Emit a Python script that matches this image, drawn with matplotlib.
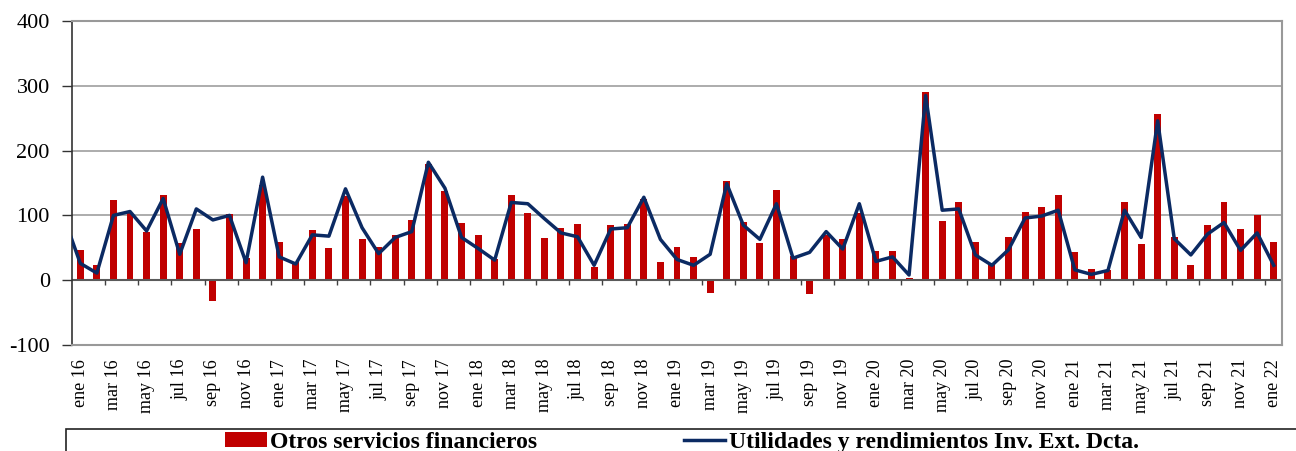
import numpy as np
import matplotlib
matplotlib.use("Agg")
import matplotlib.pyplot as plt
from matplotlib.patches import Patch, Rectangle
from matplotlib.lines import Line2D

plt.rcParams['font.family'] = ['Liberation Serif', 'DejaVu Serif']
plt.rcParams['axes.unicode_minus'] = False

# meses ene 16 .. ene 22
meses = ['ene', 'feb', 'mar', 'abr', 'may', 'jun', 'jul', 'ago', 'sep', 'oct', 'nov', 'dic']
anios = ['16', '17', '18', '19', '20', '21', '22']
periodos = [m + ' ' + a for a in anios for m in meses][:73]

otros_serv = [47, 24, 124, 104, 75, 131, 57, 79, -32, 102, 34, 147,
              59, 28, 77, 49, 130, 63, 52, 70, 93, 180, 137, 89,
              70, 32, 131, 104, 65, 81, 87, 20, 85, 87, 125, 28,
              52, 36, -20, 153, 90, 57, 139, 38, -22, 69, 63, 104,
              45, 45, 3, 290, 92, 120, 59, 26, 67, 106, 113, 131,
              43, 18, 16, 120, 56, 256, 67, 23, 85, 120, 79, 100,
              59]

# la serie de utilidades arranca en dic 15
utilidades = [98,
              26, 11, 100, 106, 76, 126, 40, 110, 93, 100, 27, 159,
              36, 25, 70, 68, 141, 81, 41, 66, 75, 182, 142, 66,
              49, 31, 120, 118, 95, 73, 67, 23, 79, 81, 128, 63,
              32, 23, 40, 149, 85, 63, 118, 34, 43, 75, 48, 118,
              29, 36, 8, 285, 108, 110, 39, 23, 47, 96, 99, 108,
              16, 9, 15, 108, 66, 246, 64, 39, 71, 89, 46, 73,
              23]

rojo = '#C00000'
azul = '#0B2A63'

W, H = 1296, 451
fig = plt.figure(figsize=(W / 100, H / 100), dpi=100)
ax = fig.add_axes([72 / W, 106 / H, 1210 / W, 324 / H])

x = np.arange(len(otros_serv))
x_util = np.arange(len(utilidades)) - 1

ax.bar(x, otros_serv, width=0.42, color=rojo, zorder=2)
ax.axhline(0, color='#5A5A5A', lw=1.5, zorder=2.5)
ax.vlines(np.arange(1.5, len(x) - 0.5, 2), -8, 0, colors='#404040', lw=1, zorder=2.5)
ax.plot(x_util, utilidades, color=azul, lw=2.5, zorder=3)

ax.set_xlim(-0.5, len(x) - 0.5)
ax.set_ylim(-100, 400)
ax.set_yticks(range(-100, 401, 100))
ax.yaxis.grid(True, color='#A6A6A6', lw=1.3, zorder=1)
ax.set_axisbelow(True)

ax.set_xticks(x[::2])
ax.set_xticklabels(periodos[::2], rotation=90, fontsize=13)
ax.tick_params(axis='x', length=0, pad=10)
ax.tick_params(axis='y', direction='out', length=7, width=1, color='#333333',
               labelsize=16, pad=9)

for lado in ['top', 'right', 'bottom']:
    ax.spines[lado].set_color('#999999')
    ax.spines[lado].set_linewidth(1.5)
ax.spines['left'].set_color('#333333')
ax.spines['left'].set_linewidth(1.2)

fig.text(0.52, 1 + 6 / H, 'Flujos mensuales (millones de dólares)', ha='center',
         va='baseline', fontsize=17, fontweight='bold')

handles = [Patch(facecolor=rojo, edgecolor='none'),
           Line2D([0], [0], color=azul, lw=2.5)]
fig.legend(handles, ['Otros servicios financieros', 'Utilidades y rendimientos Inv. Ext. Dcta.'],
           loc='upper center', bbox_to_anchor=(682 / W, 1 - 420 / H), ncol=2,
           frameon=False, prop={'family': 'Liberation Serif', 'weight': 'bold', 'size': 17},
           columnspacing=6.2, handlelength=1.75, handleheight=0.55, handletextpad=0.15,
           borderpad=0.0)
fig.add_artist(Rectangle((66 / W, -0.2), 1.2, (451 - 429) / H + 0.2, transform=fig.transFigure,
                         fill=False, edgecolor='#222222', lw=1.2))

fig.savefig('out.png', dpi=100)
